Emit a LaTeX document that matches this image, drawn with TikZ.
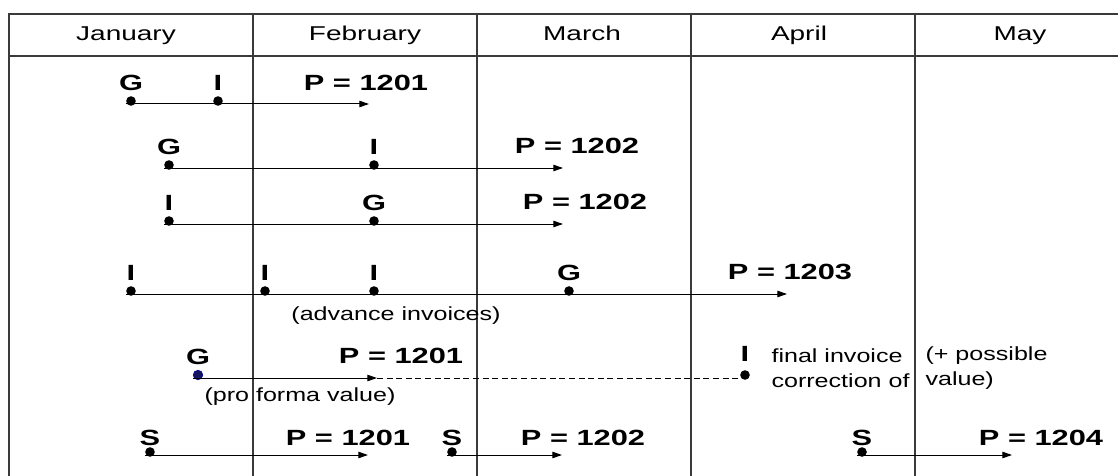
\documentclass[tikz,border=0pt]{standalone}
\usepackage{fontspec}
\setmainfont{Liberation Sans}
\usetikzlibrary{positioning, arrows.meta}
\definecolor{ink}{HTML}{000000}
\definecolor{rule}{HTML}{3A3A3A}
\definecolor{navy}{HTML}{141460}
\tikzset{
  grid/.style={draw=rule, line width=0.6pt},
  mon/.style={font=\fontsize{10}{11}\selectfont, xscale=1.4, inner sep=0pt, text=ink,
    text height=7.3pt, text depth=2.1pt},
  ev/.style={font=\bfseries\fontsize{11}{13}\selectfont, xscale=1.4, inner sep=0pt, text=ink,
    text height=7.9pt, text depth=0pt},
  note/.style={font=\fontsize{9.5}{12.5}\selectfont, xscale=1.32, inner sep=0pt, align=left, text=ink},
  dot/.style={circle, fill=ink, inner sep=0pt, minimum size=4.8pt},
  flow/.style={-{Triangle[length=4.8pt, width=3.2pt]}, line width=0.5pt, color=ink},
  flowd/.style={line width=0.5pt, color=ink, dash pattern=on 3pt off 1.8pt},
}
\begin{document}
\begin{tikzpicture}[x=0.5pt, y=-0.5pt, node distance=2.5pt]
  \useasboundingbox (0,0) rectangle (1118,476);
  \draw[grid] (1118,14) -- (9,14) -- (9,476);
  \draw[grid] (9,56) -- (1118,56);
  \draw[grid] (253,14) -- (253,476); \draw[grid] (477,14) -- (477,476);
  \draw[grid] (691,14) -- (691,476); \draw[grid] (915,14) -- (915,476);
  \node[mon] (jan) at (126,35) {January};
  \node[mon] (feb) at (365,35) {February};
  \node[mon] (mar) at (582,35) {March};
  \node[mon] (apr) at (799,35) {April};
  \node[mon] (may) at (1020,35) {May};
  % row 1
  \node[dot] (g1) at (131,101) {}; \node[dot] (i1) at (218,101) {};
  \coordinate (e1) at (369,104);
  \node[ev, above=of g1] (lg1) {G}; \node[ev, above=of i1] (li1) {I};
  \node[ev] (p1) at (366,83) {P = 1201};
  \draw[flow] (g1.west |- e1) -- (e1);
  % row 2
  \node[dot] (g2) at (169,165) {}; \node[dot] (i2) at (374,165) {};
  \coordinate (e2) at (563,168);
  \node[ev, above=of g2] (lg2) {G}; \node[ev, above=of i2] (li2) {I};
  \node[ev] (p2) at (577,146) {P = 1202};
  \draw[flow] (g2.west |- e2) -- (e2);
  % row 3
  \node[dot] (i3) at (169,221) {}; \node[dot] (g3) at (374,221) {};
  \coordinate (e3) at (563,224);
  \node[ev, above=of i3] (li3) {I}; \node[ev, above=of g3] (lg3) {G};
  \node[ev] (p3) at (585,202) {P = 1202};
  \draw[flow] (i3.west |- e3) -- (e3);
  % row 4
  \node[dot] (i4a) at (131,291) {}; \node[dot] (i4b) at (265,291) {};
  \node[dot] (i4c) at (374,291) {}; \node[dot] (g4) at (569,291) {};
  \coordinate (e4) at (787,294);
  \node[ev, above=of i4a] (li4a) {I}; \node[ev, above=of i4b] (li4b) {I};
  \node[ev, above=of i4c] (li4c) {I}; \node[ev, above=of g4] (lg4) {G};
  \node[ev] (p4) at (790,272) {P = 1203};
  \node[note] (adv) at (396,316) {(advance invoices)};
  \draw[flow] (i4a.west |- e4) -- (e4);
  % row 5
  \node[dot, fill=navy, draw=blue!60!black, line width=0.3pt] (g5) at (198,375) {};
  \node[dot] (i5) at (745,375) {};
  \coordinate (e5) at (377,378);
  \node[ev, above=of g5] (lg5) {G}; \node[ev, above=4pt of i5] (li5) {I};
  \node[ev] (p5) at (401,356) {P = 1201};
  \node[note] (pro) at (300,397) {(pro forma value)};
  \node[note, anchor=west] (fin) at (771,368) {final invoice\\correction of};
  \node[note, anchor=west] (pos) at (925,368) {(+ possible\\value)};
  \draw[flow] (g5.west |- e5) -- (e5);
  \draw[flowd] (e5) -- (i5.west |- e5);
  % row 6
  \node[dot] (s6a) at (150,452) {}; \node[dot] (s6b) at (452,452) {};
  \node[dot] (s6c) at (862,452) {};
  \coordinate (e6a) at (368,455); \coordinate (e6b) at (562,455);
  \coordinate (e6c) at (1012,455);
  \node[ev, above=0.4pt of s6a] (ls6a) {S}; \node[ev, above=0.4pt of s6b] (ls6b) {S};
  \node[ev, above=0.4pt of s6c] (ls6c) {S};
  \node[ev] (p6a) at (348,438) {P = 1201};
  \node[ev] (p6b) at (583,438) {P = 1202};
  \node[ev] (p6c) at (1041,438) {P = 1204};
  \draw[flow] (s6a.west |- e6a) -- (e6a);
  \draw[flow] (s6b.west |- e6b) -- (e6b);
  \draw[flow] (s6c.west |- e6c) -- (e6c);
\end{tikzpicture}
\end{document}
